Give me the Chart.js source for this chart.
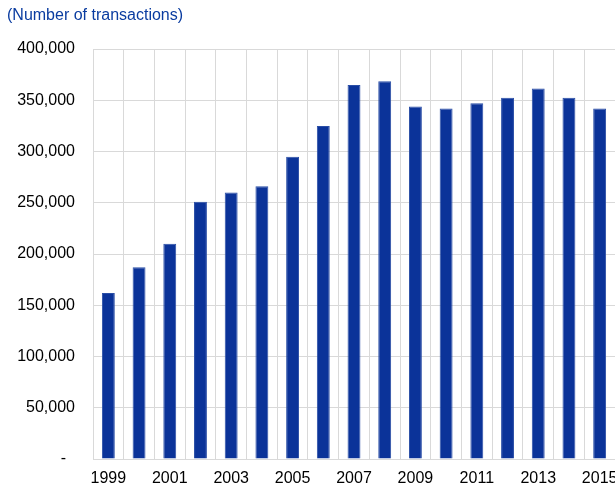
<!DOCTYPE html>
<html>
<head>
<meta charset="utf-8">
<script src="https://cdn.jsdelivr.net/npm/chart.js@4"></script>
<style>
  html, body { margin: 0; padding: 0; background: #fff; overflow: hidden; }
  #wrap { width: 615px; height: 488px; position: relative; }
  canvas { display: block; }
</style>
</head>
<body>
<div id="wrap"><canvas id="chart"></canvas></div>
<script>
// Number of transactions per year
const years = ['1999','2000','2001','2002','2003','2004','2005','2006','2007','2008',
               '2009','2010','2011','2012','2013','2014','2015'];
const transactions = [162000, 187000, 210000, 251000, 260000, 266000, 295000, 325000, 365000, 368500,
                      344000, 342000, 347000, 352500, 361500, 352500, 342000];
const yTicks = [0, 50000, 100000, 150000, 200000, 250000, 300000, 350000, 400000];
const unitLabel = '(Number of transactions)';

const ctx = document.getElementById('chart').getContext('2d');

new Chart(ctx, {
  type: 'bar',
  data: {
    labels: years,
    datasets: [{
      data: transactions,
      backgroundColor: '#0b3399',
      borderColor: '#2a4ea6',
      borderWidth: 1,
      barPercentage: 0.42,
      categoryPercentage: 1
    }]
  },
  options: {
    responsive: true,
    maintainAspectRatio: false,
    animation: false,
    layout: { padding: { top: 49, right: 0, bottom: 0, left: 0 } },
    plugins: {
      legend: { display: false },
      tooltip: { enabled: false }
    },
    scales: {
      x: {
        afterFit(scale) {
          scale.height = 29;
          scale.paddingLeft = 0;
          scale.paddingRight = 0;
        },
        grid: { color: '#d9d9d9', offset: true, drawTicks: false },
        border: { color: '#d9d9d9' },
        ticks: {
          autoSkip: false,
          maxRotation: 0,
          padding: 10,
          color: '#000',
          font: { family: 'Liberation Sans, Arial, sans-serif', size: 16 },
          callback(val, i) { return i % 2 === 0 ? years[i] : ''; }
        }
      },
      y: {
        min: 0,
        max: 400000,
        afterBuildTicks(scale) { scale.ticks = yTicks.map(v => ({ value: v })); },
        afterFit(scale) { scale.width = 93; },
        grid: { color: '#d9d9d9', drawTicks: false },
        border: { display: false },
        ticks: {
          padding: 18,
          color: '#000',
          font: { family: 'Liberation Sans, Arial, sans-serif', size: 16 },
          callback(val) { return val === 0 ? '-  ' : val.toLocaleString('en-US'); }
        }
      }
    }
  },
  plugins: [{
    afterDraw(chart) {
      const c = chart.ctx;
      c.save();
      c.fillStyle = '#0a3ca0';
      c.font = '16px Liberation Sans, Arial, sans-serif';
      c.textBaseline = 'middle';
      c.fillText(unitLabel, 7, 16);
      c.restore();
    }
  }]
});
</script>
</body>
</html>
